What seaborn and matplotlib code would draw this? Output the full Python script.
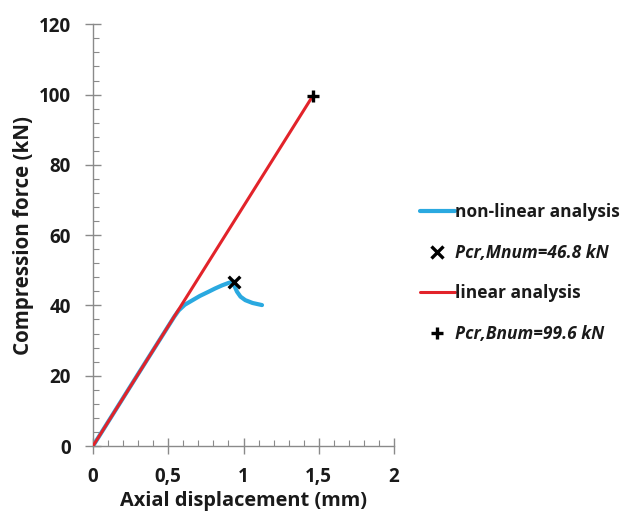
import matplotlib
matplotlib.use("Agg")
import matplotlib.pyplot as plt
from matplotlib.lines import Line2D
from matplotlib.ticker import MultipleLocator, FuncFormatter
import seaborn as sns
import pandas as pd

# Data
lin_x = [0.0, 1.46]
lin_y = [0.0, 99.6]
nl_x = [0.0, 0.30, 0.54, 0.57, 0.61, 0.658, 0.71, 0.768, 0.81, 0.857, 0.90, 0.934, 0.94, 0.957, 0.98, 1.012, 1.06, 1.123]
nl_y = [0.0, 20.5, 36.8, 38.6, 40.2, 41.4, 42.7, 43.9, 44.8, 45.7, 46.4, 46.8, 45.5, 43.9, 42.5, 41.5, 40.7, 40.1]
pm_x, pm_y = [0.934], [46.8]
pb_x, pb_y = [1.46], [99.6]
labels = ["non-linear analysis", "Pcr,Mnum=46.8 kN", "linear analysis", "Pcr,Bnum=99.6 kN"]
xticks = [0, 0.5, 1, 1.5, 2]
yticks = [0, 20, 40, 60, 80, 100, 120]

sns.set_theme(style="white")
plt.rcParams['font.family'] = ['Open Sans', 'DejaVu Sans']

BLUE = "#2AA9E0"
RED = "#E2232A"
TXT = "#1a1a1a"

fig = plt.figure(figsize=(6.28, 5.15), dpi=100)
ax = fig.add_axes([93/628, 1 - 446/515, (394-93)/628, (446-24.3)/515])

df_nl = pd.DataFrame({"x": nl_x, "y": nl_y})
df_lin = pd.DataFrame({"x": lin_x, "y": lin_y})
sns.lineplot(data=df_nl, x="x", y="y", ax=ax, color=BLUE, lw=3.0, sort=False, estimator=None, zorder=2)
sns.lineplot(data=df_lin, x="x", y="y", ax=ax, color=RED, lw=2.2, sort=False, estimator=None, zorder=3)
ax.scatter(pm_x, pm_y, marker="x", s=70, color="black", linewidths=2.4, zorder=5)
ax.scatter(pb_x, pb_y, marker="+", s=80, color="black", linewidths=2.4, zorder=5)

ax.set_xlim(0, 2)
ax.set_ylim(0, 120)
ax.set_xticks(xticks)
ax.set_yticks(yticks)
ax.xaxis.set_minor_locator(MultipleLocator(0.1))
ax.yaxis.set_minor_locator(MultipleLocator(4))
ax.xaxis.set_major_formatter(FuncFormatter(lambda v, p: ("%g" % v).replace(".", ",")))
for s in ["top", "right"]:
    ax.spines[s].set_visible(False)
for s in ["left", "bottom"]:
    ax.spines[s].set_color("#8a8a8a")
    ax.spines[s].set_linewidth(1.0)
ax.tick_params(which="major", direction="inout", length=12, width=1.0, color="#8a8a8a",
               labelsize=13.5, labelcolor=TXT, pad=10)
ax.tick_params(axis="x", which="major", pad=9)
ax.tick_params(which="minor", direction="in", length=4, width=0.8, color="#8a8a8a")
ax.tick_params(axis="both", which="both", bottom=True, left=True)
for lab in ax.get_xticklabels() + ax.get_yticklabels():
    lab.set_fontweight("bold")
ax.set_xlabel("Axial displacement (mm)", fontsize=14.4, fontweight="bold", color=TXT, labelpad=3)
ax.set_ylabel("Compression force (kN)", fontsize=14.8, fontweight="bold", color=TXT, labelpad=3)
ax.grid(False)

handles = [
    Line2D([], [], color=BLUE, lw=3.0),
    Line2D([], [], color="black", marker="x", ls="none", markersize=8, markeredgewidth=2.4),
    Line2D([], [], color=RED, lw=2.2),
    Line2D([], [], color="black", marker="+", ls="none", markersize=9, markeredgewidth=2.4),
]
leg = fig.legend(handles, labels, loc="center left", bbox_to_anchor=(413/628, 1 - 273/515),
                 frameon=False, fontsize=12.5, handlelength=2.0, handletextpad=0.0,
                 labelspacing=1.3, borderaxespad=0)
for i, t in enumerate(leg.get_texts()):
    t.set_fontweight("bold")
    t.set_color(TXT)
    if i in (1, 3):
        t.set_fontstyle("italic")

fig.savefig("out.png", dpi=100)
